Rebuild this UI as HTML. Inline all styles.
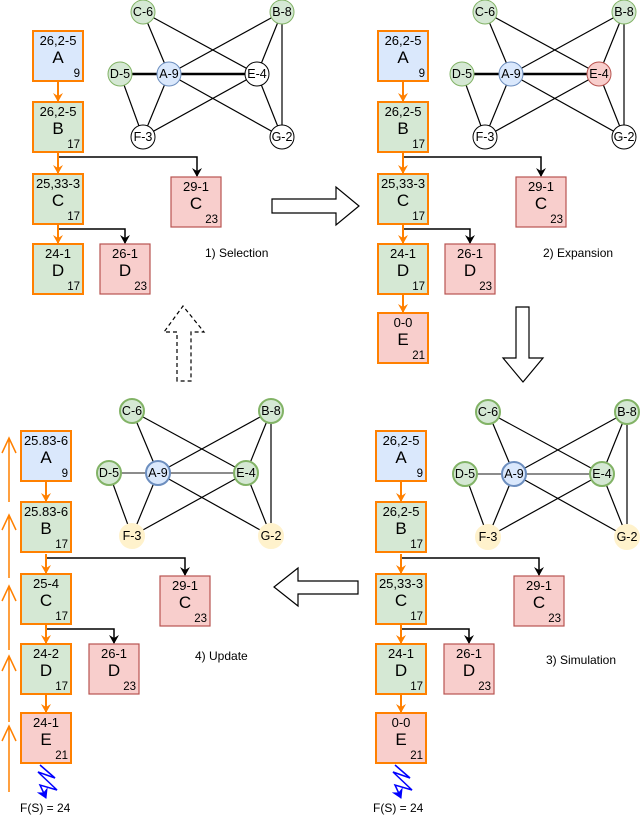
<!DOCTYPE html>
<html><head><meta charset="utf-8"><style>
html,body{margin:0;padding:0;background:#fff}
svg{display:block;font-family:"Liberation Sans",Arial,sans-serif}
</style></head><body>
<svg width="640" height="816" viewBox="0 0 640 816" xmlns="http://www.w3.org/2000/svg">
<defs>
<marker id="ao" markerWidth="10" markerHeight="10" refX="8" refY="5" orient="auto" markerUnits="userSpaceOnUse"><path d="M0,0 L9,5 L0,10 L3,5 Z" fill="#ff8000"/></marker>
<marker id="ab" markerWidth="10" markerHeight="10" refX="8" refY="5" orient="auto" markerUnits="userSpaceOnUse"><path d="M0,0 L9,5 L0,10 L3,5 Z" fill="#000"/></marker>
<marker id="abl" markerWidth="12" markerHeight="12" refX="9" refY="6" orient="auto" markerUnits="userSpaceOnUse"><path d="M0,0 L10,6 L0,12 L3,6 Z" fill="#0000ff"/></marker>

<g id="graph">
 <g stroke="#000" stroke-width="1.2" fill="none">
  <line x1="143" y1="12" x2="169" y2="74"/>
  <line x1="143" y1="12" x2="257" y2="74"/>
  <line x1="282" y1="12" x2="169" y2="74"/>
  <line x1="282" y1="12" x2="257" y2="74"/>
  <line x1="282" y1="12" x2="282" y2="137"/>
  <line x1="120" y1="74" x2="143" y2="137"/>
  <line x1="169" y1="74" x2="143" y2="137"/>
  <line x1="169" y1="74" x2="282" y2="137"/>
  <line x1="257" y1="74" x2="143" y2="137"/>
  <line x1="257" y1="74" x2="282" y2="137"/>
 </g>
</g>
</defs>

<use href="#graph"/>
<g stroke="#000" stroke-width="2.5"><line x1="120" y1="74" x2="257" y2="74"/></g>
<g font-size="12.5" text-anchor="middle">
<circle cx="143" cy="12" r="12" fill="#d5e8d4" stroke="#82b366"/><text x="143" y="16">C-6</text>
<circle cx="282" cy="12" r="12" fill="#d5e8d4" stroke="#82b366"/><text x="282" y="16">B-8</text>
<circle cx="120" cy="74" r="12" fill="#d5e8d4" stroke="#82b366"/><text x="120" y="78">D-5</text>
<circle cx="169" cy="74" r="12" fill="#dae8fc" stroke="#6c8ebf"/><text x="169" y="78">A-9</text>
<circle cx="257" cy="74" r="12" fill="#fff" stroke="#000"/><text x="257" y="78">E-4</text>
<circle cx="143" cy="137" r="12" fill="#fff" stroke="#000"/><text x="143" y="141">F-3</text>
<circle cx="282" cy="137" r="12" fill="#fff" stroke="#000"/><text x="282" y="141">G-2</text>
</g>

<g transform="translate(342,0)">
<use href="#graph"/>
<g stroke="#000" stroke-width="2.5"><line x1="120" y1="74" x2="257" y2="74"/></g>
<g font-size="12.5" text-anchor="middle">
<circle cx="143" cy="12" r="12" fill="#d5e8d4" stroke="#82b366"/><text x="143" y="16">C-6</text>
<circle cx="282" cy="12" r="12" fill="#d5e8d4" stroke="#82b366"/><text x="282" y="16">B-8</text>
<circle cx="120" cy="74" r="12" fill="#d5e8d4" stroke="#82b366"/><text x="120" y="78">D-5</text>
<circle cx="169" cy="74" r="12" fill="#dae8fc" stroke="#6c8ebf"/><text x="169" y="78">A-9</text>
<circle cx="257" cy="74" r="12" fill="#f8cecc" stroke="#b85450"/><text x="257" y="78">E-4</text>
<circle cx="143" cy="137" r="12" fill="#fff" stroke="#000"/><text x="143" y="141">F-3</text>
<circle cx="282" cy="137" r="12" fill="#fff" stroke="#000"/><text x="282" y="141">G-2</text>
</g></g>

<g transform="translate(-11,399)">
<use href="#graph"/>
<g stroke="#666" stroke-width="1.5"><line x1="120" y1="74" x2="257" y2="74"/></g>
<g font-size="12.5" text-anchor="middle" stroke-width="2">
<circle cx="143" cy="12" r="12" fill="#d5e8d4" stroke="#82b366"/><text x="143" y="16">C-6</text>
<circle cx="282" cy="12" r="12" fill="#d5e8d4" stroke="#82b366"/><text x="282" y="16">B-8</text>
<circle cx="120" cy="74" r="12" fill="#d5e8d4" stroke="#82b366"/><text x="120" y="78">D-5</text>
<circle cx="169" cy="74" r="12" fill="#dae8fc" stroke="#6c8ebf"/><text x="169" y="78">A-9</text>
<circle cx="257" cy="74" r="12" fill="#d5e8d4" stroke="#82b366"/><text x="257" y="78">E-4</text>
<circle cx="143" cy="137" r="12" fill="#fff2cc" stroke="#fff2cc"/><text x="143" y="141">F-3</text>
<circle cx="282" cy="137" r="12" fill="#fff2cc" stroke="#fff2cc"/><text x="282" y="141">G-2</text>
</g></g>

<g transform="translate(345,400)">
<use href="#graph"/>
<g stroke="#666" stroke-width="1.5"><line x1="120" y1="74" x2="257" y2="74"/></g>
<g font-size="12.5" text-anchor="middle" stroke-width="2">
<circle cx="143" cy="12" r="12" fill="#d5e8d4" stroke="#82b366"/><text x="143" y="16">C-6</text>
<circle cx="282" cy="12" r="12" fill="#d5e8d4" stroke="#82b366"/><text x="282" y="16">B-8</text>
<circle cx="120" cy="74" r="12" fill="#d5e8d4" stroke="#82b366"/><text x="120" y="78">D-5</text>
<circle cx="169" cy="74" r="12" fill="#dae8fc" stroke="#6c8ebf"/><text x="169" y="78">A-9</text>
<circle cx="257" cy="74" r="12" fill="#d5e8d4" stroke="#82b366"/><text x="257" y="78">E-4</text>
<circle cx="143" cy="137" r="12" fill="#fff2cc" stroke="#fff2cc"/><text x="143" y="141">F-3</text>
<circle cx="282" cy="137" r="12" fill="#fff2cc" stroke="#fff2cc"/><text x="282" y="141">G-2</text>
</g></g>

<g fill="none" stroke-width="1.5">
<path d="M58 157 H197 V176" stroke="#000" marker-end="url(#ab)"/>
<path d="M58 229 H125 V243" stroke="#000" marker-end="url(#ab)"/>
<path d="M58 82 V101" stroke="#ff8000" stroke-width="2" marker-end="url(#ao)"/>
<path d="M58 153 V173" stroke="#ff8000" stroke-width="2" marker-end="url(#ao)"/>
<path d="M58 225 V243" stroke="#ff8000" stroke-width="2" marker-end="url(#ao)"/>
<path d="M403 157 H541 V176" stroke="#000" marker-end="url(#ab)"/>
<path d="M403 229 H470 V243" stroke="#000" marker-end="url(#ab)"/>
<path d="M403 82 V101" stroke="#ff8000" stroke-width="2" marker-end="url(#ao)"/>
<path d="M403 153 V173" stroke="#ff8000" stroke-width="2" marker-end="url(#ao)"/>
<path d="M403 225 V243" stroke="#ff8000" stroke-width="2" marker-end="url(#ao)"/>
<path d="M403 295 V312" stroke="#ff8000" stroke-width="2" marker-end="url(#ao)"/>
<path d="M401 558 H539 V575" stroke="#000" marker-end="url(#ab)"/>
<path d="M401 629 H469 V643" stroke="#000" marker-end="url(#ab)"/>
<path d="M401 482 V501" stroke="#ff8000" stroke-width="2" marker-end="url(#ao)"/>
<path d="M401 554 V573" stroke="#ff8000" stroke-width="2" marker-end="url(#ao)"/>
<path d="M401 625 V643" stroke="#ff8000" stroke-width="2" marker-end="url(#ao)"/>
<path d="M401 695 V712" stroke="#ff8000" stroke-width="2" marker-end="url(#ao)"/>
<path d="M46 558 H185 V575" stroke="#000" marker-end="url(#ab)"/>
<path d="M46 629 H114 V643" stroke="#000" marker-end="url(#ab)"/>
<path d="M46 482 V501" stroke="#ff8000" stroke-width="2" marker-end="url(#ao)"/>
<path d="M46 554 V573" stroke="#ff8000" stroke-width="2" marker-end="url(#ao)"/>
<path d="M46 625 V643" stroke="#ff8000" stroke-width="2" marker-end="url(#ao)"/>
<path d="M46 695 V712" stroke="#ff8000" stroke-width="2" marker-end="url(#ao)"/>
<path d="M40 765 L55 778 L38 772 L57 790 L40 785 L46 798" stroke="#0000ff" marker-end="url(#abl)"/>
<path d="M395 765 L410 778 L393 772 L412 790 L395 785 L401 798" stroke="#0000ff" marker-end="url(#abl)"/>
<g stroke="#ff8000" stroke-width="1.5">
<path d="M9 502 V438 M2 453 L9 438 L16 453"/>
<path d="M9 578 V515 M2 530 L9 515 L16 530"/>
<path d="M9 650 V586 M2 601 L9 586 L16 601"/>
<path d="M9 722 V656 M2 671 L9 656 L16 671"/>
<path d="M9 792 V726 M2 741 L9 726 L16 741"/>
</g>
</g>

<g fill="#fff" stroke="#000" stroke-width="1.2">
<path d="M272 199 H336 V187 L359 206 L336 225 V213 H272 Z"/>
<path d="M516 307 H529 V358 H543 L523 382 L503 358 H516 Z"/>
<path d="M358 581 H298 V568 L274 587 L298 606 V594 H358 Z"/>
<path d="M177 381 V332 H164 L183 306 L204 332 H191 V381 Z" stroke-dasharray="4 3"/>
</g>

<g stroke="#ff8000" stroke-width="2">
<rect x="33" y="31" width="50" height="50" fill="#dae8fc"/>
<rect x="33" y="102" width="50" height="50" fill="#d5e8d4"/>
<rect x="33" y="174" width="50" height="50" fill="#d5e8d4"/>
<rect x="33" y="244" width="50" height="50" fill="#d5e8d4"/>
<rect x="378" y="31" width="50" height="50" fill="#dae8fc"/>
<rect x="378" y="102" width="50" height="50" fill="#d5e8d4"/>
<rect x="378" y="174" width="50" height="50" fill="#d5e8d4"/>
<rect x="378" y="244" width="50" height="50" fill="#d5e8d4"/>
<rect x="378" y="313" width="50" height="50" fill="#f8cecc"/>
<rect x="376" y="431" width="50" height="50" fill="#dae8fc"/>
<rect x="376" y="502" width="50" height="50" fill="#d5e8d4"/>
<rect x="376" y="574" width="50" height="50" fill="#d5e8d4"/>
<rect x="376" y="644" width="50" height="50" fill="#d5e8d4"/>
<rect x="376" y="713" width="50" height="50" fill="#f8cecc"/>
<rect x="21" y="431" width="50" height="50" fill="#dae8fc"/>
<rect x="21" y="502" width="50" height="50" fill="#d5e8d4"/>
<rect x="21" y="574" width="50" height="50" fill="#d5e8d4"/>
<rect x="21" y="644" width="50" height="50" fill="#d5e8d4"/>
<rect x="21" y="713" width="50" height="50" fill="#f8cecc"/>
</g>
<g stroke="#b85450" stroke-width="1.2" fill="#f8cecc">
<rect x="171" y="177" width="50" height="50"/>
<rect x="100" y="244" width="50" height="50"/>
<rect x="516" y="177" width="50" height="50"/>
<rect x="445" y="244" width="50" height="50"/>
<rect x="514" y="576" width="50" height="50"/>
<rect x="444" y="644" width="50" height="50"/>
<rect x="160" y="576" width="50" height="50"/>
<rect x="89" y="644" width="50" height="50"/>
</g>

<g font-size="13" text-anchor="middle" fill="#000">
<text x="58" y="45">26,2-5</text><text x="58" y="63" font-size="17">A</text>
<text x="58" y="116">26,2-5</text><text x="58" y="134" font-size="17">B</text>
<text x="58" y="188">25,33-3</text><text x="58" y="206" font-size="17">C</text>
<text x="58" y="258">24-1</text><text x="58" y="276" font-size="17">D</text>
<text x="196" y="191">29-1</text><text x="196" y="209" font-size="17">C</text>
<text x="125" y="258">26-1</text><text x="125" y="276" font-size="17">D</text>

<text x="403" y="45">26,2-5</text><text x="403" y="63" font-size="17">A</text>
<text x="403" y="116">26,2-5</text><text x="403" y="134" font-size="17">B</text>
<text x="403" y="188">25,33-3</text><text x="403" y="206" font-size="17">C</text>
<text x="403" y="258">24-1</text><text x="403" y="276" font-size="17">D</text>
<text x="403" y="327">0-0</text><text x="403" y="345" font-size="17">E</text>
<text x="541" y="191">29-1</text><text x="541" y="209" font-size="17">C</text>
<text x="470" y="258">26-1</text><text x="470" y="276" font-size="17">D</text>

<text x="401" y="445">26,2-5</text><text x="401" y="463" font-size="17">A</text>
<text x="401" y="516">26,2-5</text><text x="401" y="534" font-size="17">B</text>
<text x="401" y="588">25,33-3</text><text x="401" y="606" font-size="17">C</text>
<text x="401" y="658">24-1</text><text x="401" y="676" font-size="17">D</text>
<text x="401" y="727">0-0</text><text x="401" y="745" font-size="17">E</text>
<text x="539" y="590">29-1</text><text x="539" y="608" font-size="17">C</text>
<text x="469" y="658">26-1</text><text x="469" y="676" font-size="17">D</text>

<text x="46" y="445">25.83-6</text><text x="46" y="463" font-size="17">A</text>
<text x="46" y="516">25.83-6</text><text x="46" y="534" font-size="17">B</text>
<text x="46" y="588">25-4</text><text x="46" y="606" font-size="17">C</text>
<text x="46" y="658">24-2</text><text x="46" y="676" font-size="17">D</text>
<text x="46" y="727">24-1</text><text x="46" y="745" font-size="17">E</text>
<text x="185" y="590">29-1</text><text x="185" y="608" font-size="17">C</text>
<text x="114" y="658">26-1</text><text x="114" y="676" font-size="17">D</text>
</g>
<g font-size="11.5" text-anchor="end">
<text x="80" y="77">9</text><text x="80" y="148">17</text><text x="80" y="220">17</text><text x="80" y="290">17</text>
<text x="218" y="223">23</text><text x="147" y="290">23</text>
<text x="425" y="77">9</text><text x="425" y="148">17</text><text x="425" y="220">17</text><text x="425" y="290">17</text><text x="425" y="359">21</text>
<text x="563" y="223">23</text><text x="492" y="290">23</text>
<text x="423" y="477">9</text><text x="423" y="548">17</text><text x="423" y="620">17</text><text x="423" y="690">17</text><text x="423" y="759">21</text>
<text x="561" y="622">23</text><text x="491" y="690">23</text>
<text x="68" y="477">9</text><text x="68" y="548">17</text><text x="68" y="620">17</text><text x="68" y="690">17</text><text x="68" y="759">21</text>
<text x="207" y="622">23</text><text x="136" y="690">23</text>
</g>

<g font-size="12">
<text x="205" y="257">1) Selection</text>
<text x="543" y="257">2) Expansion</text>
<text x="195" y="660">4) Update</text>
<text x="546" y="664">3) Simulation</text>
<text x="20" y="812">F(S) = 24</text>
<text x="373" y="812">F(S) = 24</text>
</g>
</svg>
</body></html>
